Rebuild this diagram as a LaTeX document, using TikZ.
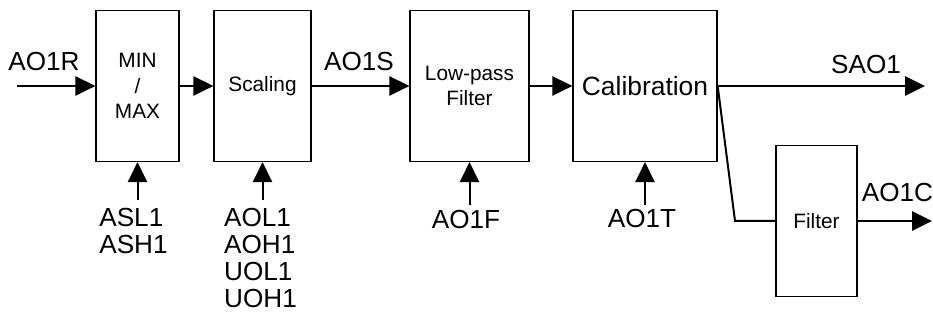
\documentclass[tikz,border=0pt]{standalone}
\usepackage{fontspec}
\setmainfont{Liberation Sans}
\usetikzlibrary{arrows.meta,calc}

\tikzset{
  blk/.style={draw, line width=1pt, inner sep=0pt, align=center,
    minimum height=113.25pt, font=\fontsize{15.6}{19}\selectfont},
  lbl/.style={inner sep=0pt, font=\fontsize{19.6}{20.25}\selectfont},
  sig/.style={line width=1.5pt, -{Triangle[length=15pt,width=14.5pt]}},
}

\begin{document}
\begin{tikzpicture}[x=0.75pt,y=-0.75pt]
\useasboundingbox (0,0) rectangle (933,323);

% blocks
\node[blk, minimum width=62.25pt] (mm) at (137.5,86) {MIN\\/\\MAX};
\node[blk, minimum width=72.75pt] (sc) at (262.5,86) {Scaling};
\node[blk, minimum width=89.25pt] (lp) at (469.5,86) {Low-pass\\Filter};
\node[blk, minimum width=108pt, font=\fontsize{19.8}{22}\selectfont] (cal) at (645,86) {Calibration};
\node[blk, minimum width=60.75pt] (flt) at (816.5,221) {Filter};

% signal names
\node[lbl] (aor) at (44,62) {AO1R};
\node[lbl] (aos) at (359,62) {AO1S};
\node[lbl] (sao) at (866,65) {SAO1};
\node[lbl] (aoc) at (897.5,193) {AO1C};

% parameters
\node[lbl, align=left] (ash) at (133.5,231.5) {ASL1\\ASH1};
\node[lbl, align=left] (aoh) at (260.5,258.5) {AOL1\\AOH1\\UOL1\\UOH1};
\node[lbl] (aof) at (466,220) {AO1F};
\node[lbl] (aot) at (642,219) {AO1T};

\coordinate (in) at (17,86);
\coordinate (out1) at (925,86);
\coordinate (out2) at (932,221);
\coordinate (bend) at (735,221);

% main chain
\draw[sig] (in) -- (mm.west);
\draw[sig] (mm.east) -- (sc.west);
\draw[sig] (sc.east) -- (lp.west);
\draw[sig] (lp.east) -- (cal.west);
\draw[sig] (cal.east) -- (out1);
\draw[line width=1.5pt] (cal.east) -- (bend) -- (flt.west);
\draw[sig] (flt.east) -- (out2);

% parameter inputs
\draw[sig] ([yshift=6.5pt]ash.north -| mm.south) -- (mm.south);
\draw[sig] ([yshift=6pt]aoh.north -| sc.south) -- (sc.south);
\draw[sig] ([yshift=4.3pt]aof.north -| lp.south) -- (lp.south);
\draw[sig] ([yshift=3.5pt]aot.north -| cal.south) -- (cal.south);
\end{tikzpicture}
\end{document}
